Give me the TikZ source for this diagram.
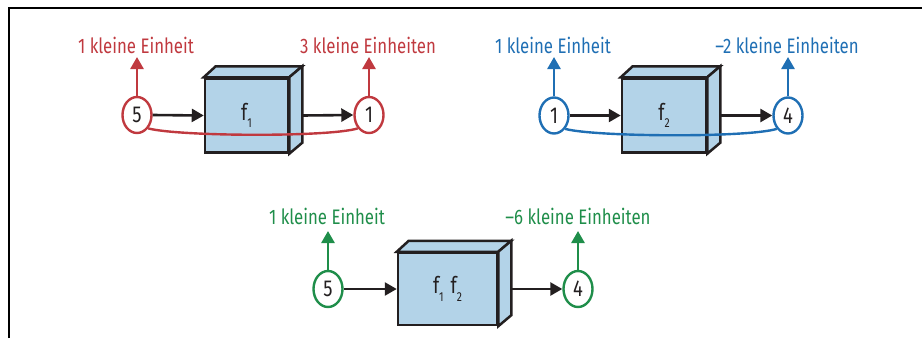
\documentclass[tikz,border=0pt]{standalone}
\usepackage{fontspec}
\newfontfamily\condf[FakeStretch=0.8]{Fira Sans}
\usetikzlibrary{arrows.meta,shapes.geometric}
\definecolor{cred}{HTML}{C0393F}
\definecolor{cblue}{HTML}{1F6FB4}
\definecolor{cgreen}{HTML}{1F8E4A}
\definecolor{boxblue}{HTML}{B3D3E8}
\definecolor{ink}{HTML}{231F20}
\begin{document}
\begin{tikzpicture}[x=1pt,y=-1pt,
  cubeface/.style={draw=ink, line width=2.5pt, fill=boxblue, line join=miter},
  front/.style={cubeface, rectangle, inner sep=0pt, font=\condf\fontsize{23}{23}\selectfont, text=ink},
  val/.style={ellipse, draw=#1, line width=2.4pt, fill=white, minimum width=29pt, minimum height=36pt, inner sep=0pt, font=\condf\fontsize{23}{23}\selectfont, text=ink},
  lbl/.style={font=\condf\fontsize{21}{21}\selectfont, anchor=base, text=#1, inner sep=0pt},
  flow/.style={draw=ink, line width=2.6pt, -{Triangle[length=12pt,width=13pt]}},
  up/.style={draw=#1, line width=2.6pt, -{Triangle[length=12pt,width=13pt,fill=#1]}},
  link/.style={draw=#1, line width=2.4pt}]
\useasboundingbox (0,0) rectangle (922,338);
\draw[line width=2pt] (9,338) -- (9,7.5) -- (922,7.5);
\newcommand\sub[1]{\raisebox{-0.6ex}{\fontsize{13}{13}\selectfont #1}}
\newcommand\cubesides[1]{%
  \draw[cubeface] (#1.north west) -- ([shift={(12,-11)}]#1.north west) -- ([shift={(13,-11)}]#1.north east) -- (#1.north east) -- cycle;
  \draw[cubeface] (#1.north east) -- ([shift={(13,-11)}]#1.north east) -- ([shift={(13,-11)}]#1.south east) -- (#1.south east) -- cycle;}
% panel 1
\node[front, minimum width=83pt, minimum height=74pt] (b1) at (246.5,115.5) {f\sub{1}};
\cubesides{b1}
\node[val=cred] (e1) at (137,115) {5};
\node[val=cred] (e2) at (369,115) {1};
\draw[flow] (e1.east) -- (b1.west);
\draw[flow] ([xshift=13pt]b1.east) -- (e2.west);
\draw[link=cred] (e1.-50) .. controls +(30,8) and +(-30,9) .. (e2.-130);
\coordinate (t1) at (137,57);
\coordinate (t2) at (369,57);
\draw[up=cred] (e1.north) -- (t1);
\draw[up=cred] (e2.north) -- (t2);
\node[lbl=cred] (l1) at (136,53) {1 kleine Einheit};
\node[lbl=cred] (l2) at (368,53) {3 kleine Einheiten};
% panel 2
\node[front, minimum width=84pt, minimum height=74pt] (b2) at (664,115.5) {f\sub{2}};
\cubesides{b2}
\node[val=cblue] (e3) at (554,115.5) {1};
\node[val=cblue] (e4) at (788,115.5) {4};
\draw[flow] (e3.east) -- (b2.west);
\draw[flow] ([xshift=13pt]b2.east) -- (e4.west);
\draw[link=cblue] (e3.-50) .. controls +(30,8) and +(-30,9) .. (e4.-130);
\coordinate (t3) at (554,57);
\coordinate (t4) at (788,57);
\draw[up=cblue] (e3.north) -- (t3);
\draw[up=cblue] (e4.north) -- (t4);
\node[lbl=cblue] (l3) at (553,53) {1 kleine Einheit};
\node[lbl=cblue] (l4) at (787,53) {–2 kleine Einheiten};
% panel 3
\node[front, minimum width=99pt, minimum height=72pt] (b3) at (447.5,289) {f\sub{1}\hspace{7pt}f\sub{2}};
\cubesides{b3}
\node[val=cgreen] (e5) at (328,289) {5};
\node[val=cgreen] (e6) at (578,289) {4};
\draw[flow] (e5.east) -- (b3.west);
\draw[flow] ([xshift=13pt]b3.east) -- (e6.west);
\coordinate (t5) at (328,231);
\coordinate (t6) at (578,231);
\draw[up=cgreen] (e5.north) -- (t5);
\draw[up=cgreen] (e6.north) -- (t6);
\node[lbl=cgreen] (l5) at (327,224) {1 kleine Einheit};
\node[lbl=cgreen] (l6) at (578,224) {–6 kleine Einheiten};
\end{tikzpicture}
\end{document}
